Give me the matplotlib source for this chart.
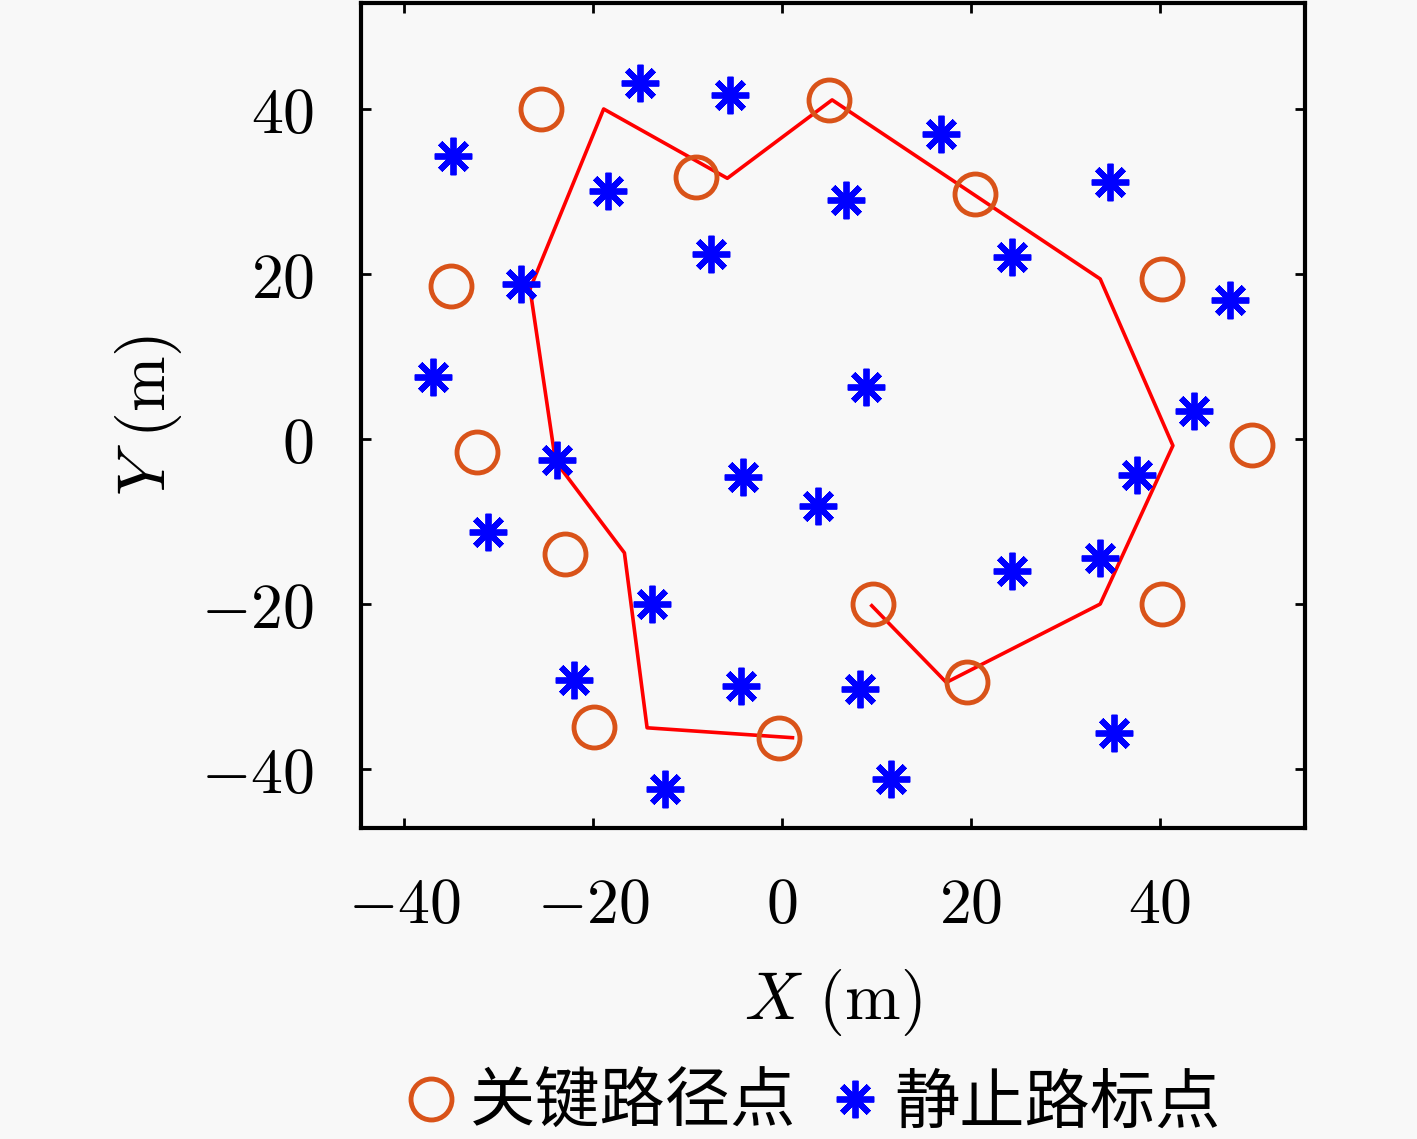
import numpy as np
import matplotlib.pyplot as plt
from matplotlib.ticker import FuncFormatter

plt.rcParams['mathtext.fontset'] = 'cm'
plt.rcParams['font.family'] = ['DejaVu Serif']

# 关键路径点 (orange circles)
key_x = [-25.5, -9.1, 5.0, 20.4, 40.2, -35.1, -32.3, -23.0, 49.8, 9.6, 40.2, 19.6, -19.9, -0.3]
key_y = [40.0, 31.8, 41.1, 29.7, 19.4, 18.5, -1.6, -13.9, -0.7, -20.0, -20.0, -29.5, -34.9, -36.2]

# 静止路标点 (blue asterisks)
lm_x = [-15.0, -5.5, -34.9, -18.4, -7.5, -27.7, 6.8, 16.8, 34.7, 24.4, 47.5, -37.0, 8.9, 43.6,
        -23.8, -4.1, 37.6, 3.8, -31.2, 24.4, 33.7, -13.8, -22.0, -4.3, 8.3, 35.2, -12.4, 11.5]
lm_y = [43.2, 41.7, 34.3, 30.1, 22.4, 18.8, 29.0, 37.0, 31.2, 22.1, 16.8, 7.5, 6.3, 3.4,
        -2.5, -4.6, -4.4, -8.1, -11.3, -16.0, -14.4, -20.0, -29.2, -29.9, -30.3, -35.6, -42.4, -41.2]

# path (red line)
path_x = [1.1, -14.3, -16.7, -24.0, -26.7, -18.9, -5.8, 5.3, 33.7, 41.4, 33.7, 17.4, 9.5]
path_y = [-36.2, -35.0, -13.8, -2.7, 18.2, 40.0, 31.6, 41.1, 19.4, -0.8, -20.0, -29.5, -20.2]

xticks = [-40, -20, 0, 20, 40]
yticks = [-40, -20, 0, 20, 40]

bg = '#f8f8f8'
fig = plt.figure(figsize=(14.17, 11.39), dpi=100, facecolor=bg)
ax = fig.add_axes([0.2548, 0.2730, 0.6662, 0.7244], facecolor=bg)

ax.plot(path_x, path_y, color='#ff0000', linewidth=2.6, zorder=2)
h1, = ax.plot(key_x, key_y, linestyle='none', marker='o', markersize=29.5,
              markerfacecolor='none', markeredgecolor='#D95319', markeredgewidth=3.5, zorder=3)
h2, = ax.plot(lm_x, lm_y, linestyle='none', marker=(8, 2, 0), markersize=27,
              markeredgecolor='#0000ff', markeredgewidth=4.2, zorder=4)

ax.set_xlim(-44.6, 55.4)
ax.set_ylim(-47.15, 52.85)
ax.set_xticks(xticks)
ax.set_yticks(yticks)
fmt = FuncFormatter(lambda v, p: r'$%d$' % v)
ax.xaxis.set_major_formatter(fmt)
ax.yaxis.set_major_formatter(fmt)
ax.tick_params(direction='in', length=7, width=2, top=True, right=True, labelsize=46)
ax.tick_params(axis='x', pad=34)
ax.tick_params(axis='y', pad=34)
for s in ax.spines.values():
    s.set_linewidth(3)

ax.set_xlabel(r'$X\ (\mathrm{m})$', fontsize=48, labelpad=22)
ax.set_ylabel(r'$Y\ (\mathrm{m})$', fontsize=48, labelpad=12)

fig.legend([h1, h2], ['关键路径点', '静止路标点'], loc='center',
           bbox_to_anchor=(816 / 1417, 1 - 1104 / 1139), ncol=2, frameon=False,
           prop={'family': ['Noto Sans CJK SC', 'DejaVu Sans'], 'size': 47},
           handlelength=0.6, handletextpad=0.3, columnspacing=0.6, markerscale=1.0,
           borderpad=0.2)

fig.savefig('out.png', dpi=100, facecolor=bg)
